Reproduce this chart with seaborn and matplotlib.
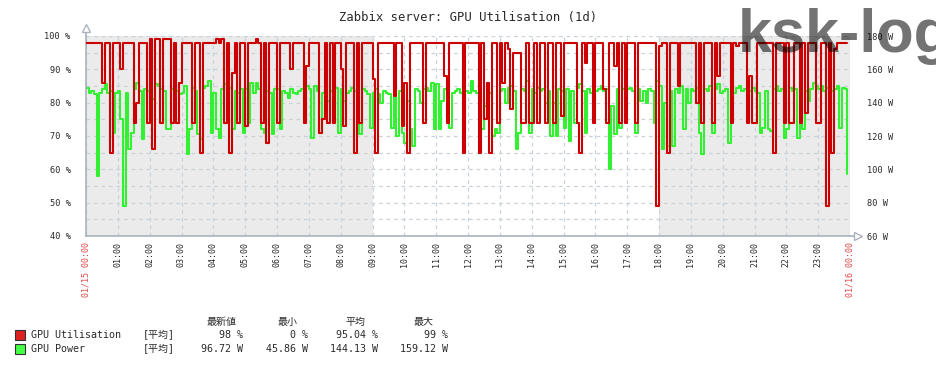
import pandas as pd
import seaborn as sns
import matplotlib.pyplot as plt
from matplotlib.patches import Rectangle

sns.set_style("white")
plt.rcParams['font.family'] = ['DejaVu Sans Mono', 'Noto Sans CJK JP']

# GPU Utilisation (%) - one value every 5 minutes, one row per hour
gpu_util = [
    98, 98, 98, 98, 98, 98, 86, 98, 98, 65, 98, 98,   # 00
    98, 90, 98, 98, 98, 98, 74, 80, 98, 98, 98, 74,   # 01
    99, 66, 99, 99, 74, 99, 99, 99, 74, 98, 74, 86,   # 02
    98, 98, 98, 98, 74, 98, 98, 65, 98, 98, 98, 98,   # 03
    98, 99, 98, 99, 74, 98, 65, 89, 98, 74, 98, 98,   # 04
    73, 98, 98, 98, 99, 98, 74, 98, 68, 98, 98, 98,   # 05
    74, 98, 98, 98, 98, 90, 98, 98, 98, 98, 74, 91,   # 06
    98, 98, 98, 98, 71, 75, 98, 74, 98, 74, 98, 98,   # 07
    90, 73, 98, 98, 98, 65, 98, 74, 98, 98, 98, 98,   # 08
    87, 65, 98, 98, 98, 98, 98, 98, 82, 98, 98, 73,   # 09
    86, 65, 98, 98, 98, 98, 98, 74, 98, 98, 98, 98,   # 10
    98, 98, 98, 88, 74, 98, 98, 98, 98, 98, 65, 98,   # 11
    98, 98, 98, 98, 65, 98, 75, 86, 65, 98, 98, 74,   # 12
    98, 86, 98, 96, 78, 95, 95, 95, 74, 74, 98, 74,   # 13
    74, 98, 74, 98, 98, 74, 98, 98, 74, 98, 98, 76,   # 14
    98, 98, 98, 98, 98, 74, 65, 98, 92, 98, 98, 74,   # 15
    98, 98, 98, 84, 74, 98, 98, 91, 98, 74, 98, 74,   # 16
    98, 98, 98, 74, 98, 98, 98, 98, 98, 98, 98, 49,   # 17
    97, 98, 98, 65, 98, 98, 98, 85, 98, 98, 98, 98,   # 18
    98, 98, 80, 98, 74, 98, 98, 98, 74, 98, 88, 98,   # 19
    98, 98, 98, 74, 98, 97, 98, 98, 98, 74, 88, 74,   # 20
    74, 98, 98, 98, 98, 98, 98, 65, 98, 98, 98, 74,   # 21
    98, 74, 74, 98, 98, 74, 98, 77, 98, 98, 98, 74,   # 22
    74, 98, 98, 49, 98, 65, 96, 98, 98, 98, 98, 98,   # 23
]

# GPU Power (W) - same timestamps
gpu_power = [
    149, 146, 147, 145, 96, 146, 148, 151, 146, 147, 122, 146,    # 00
    147, 130, 78, 146, 112, 122, 148, 152, 147, 118, 148, 147,    # 01
    149, 142, 151, 150, 148, 147, 124, 124, 148, 146, 147, 145,   # 02
    146, 150, 109, 124, 149, 147, 121, 118, 149, 150, 153, 122,   # 03
    146, 124, 119, 148, 151, 147, 149, 124, 147, 146, 148, 122,   # 04
    148, 128, 152, 146, 152, 148, 124, 122, 147, 146, 121, 148,   # 05
    148, 124, 147, 146, 143, 148, 146, 145, 147, 148, 146, 150,   # 06
    148, 119, 150, 147, 122, 146, 148, 141, 147, 146, 149, 122,   # 07
    148, 141, 146, 147, 149, 147, 146, 121, 148, 147, 145, 125,   # 08
    146, 148, 145, 140, 147, 146, 145, 125, 144, 120, 147, 122,   # 09
    116, 141, 124, 114, 148, 147, 140, 148, 149, 147, 152, 124,   # 10
    151, 124, 141, 148, 150, 125, 146, 147, 148, 146, 122, 147,   # 11
    146, 153, 147, 146, 148, 124, 138, 147, 146, 120, 124, 122,   # 12
    147, 148, 140, 149, 150, 147, 112, 122, 148, 147, 153, 122,   # 13
    148, 146, 149, 147, 148, 140, 147, 120, 140, 120, 148, 147,   # 14
    125, 148, 117, 147, 128, 149, 151, 147, 122, 148, 146, 141,   # 15
    147, 148, 150, 147, 148, 100, 138, 121, 148, 125, 148, 146,   # 16
    148, 149, 147, 122, 148, 141, 147, 140, 148, 147, 128, 153,   # 17
    150, 112, 140, 114, 147, 114, 148, 146, 150, 124, 148, 140,   # 18
    148, 147, 149, 122, 109, 148, 147, 150, 122, 148, 151, 146,   # 19
    147, 148, 116, 147, 146, 149, 150, 147, 148, 146, 147, 149,   # 20
    147, 146, 122, 125, 147, 124, 123, 148, 150, 147, 148, 119,   # 21
    124, 149, 147, 148, 119, 148, 124, 147, 141, 148, 152, 150,   # 22
    148, 150, 147, 149, 146, 147, 148, 150, 125, 149, 148, 97,    # 23
]

stat_headers = ["最新値", "最小", "平均", "最大"]
util_stats = ["98 %", "0 %", "95.04 %", "99 %"]
power_stats = ["96.72 W", "45.86 W", "144.13 W", "159.12 W"]

RED = "#CC0000"
GREEN = "#33F033"
GRID = "#C9D1D9"
AXIS = "#A9B3BD"
TXT = "#2A2A2A"

times = pd.date_range("2024-01-15 00:00", periods=len(gpu_util), freq="5min")
df = pd.DataFrame({"time": times, "util": gpu_util, "power": gpu_power})
start = times[0]
end = start + pd.Timedelta(hours=24)

W, H = 936, 376
fig = plt.figure(figsize=(W / 100, H / 100), dpi=100)
rect = [86 / W, 1 - 236 / H, 764 / W, 200 / H]
ax_w = fig.add_axes(rect)
ax_p = fig.add_axes(rect, sharex=ax_w)
ax_p.patch.set_visible(False)

# background: working hours white, rest grey
ax_w.axvspan(start, start + pd.Timedelta(hours=9), color="#EBEBEB", lw=0, zorder=0)
ax_w.axvspan(start + pd.Timedelta(hours=18), end, color="#EBEBEB", lw=0, zorder=0)

sns.lineplot(data=df, x="time", y="power", ax=ax_w, color=GREEN,
             linewidth=1.5, drawstyle="steps-post", zorder=3)
sns.lineplot(data=df, x="time", y="util", ax=ax_p, color=RED,
             linewidth=1.5, drawstyle="steps-post", zorder=3)

ax_w.set_xlim(start, end)
ax_w.set_ylim(60, 180)
ax_p.set_ylim(40, 100)
for a in (ax_w, ax_p):
    a.set_xlabel("")
    a.set_ylabel("")
    for s in a.spines.values():
        s.set_visible(False)

# grid every 10 W (= 5 %) and every hour
hours = pd.date_range(start, end, freq="h")
w_ticks = list(range(60, 181, 10))
ax_w.set_yticks(w_ticks)
ax_w.set_yticklabels([f"{v} W" if v % 20 == 0 else "" for v in w_ticks])
ax_w.yaxis.tick_right()
ax_w.set_xticks(hours)
ax_w.grid(True, color=GRID, linestyle=(0, (3, 3)), linewidth=0.9)
ax_w.set_axisbelow(True)
ax_w.tick_params(axis="y", length=0, pad=12, labelsize=6.2, labelcolor=TXT)
ax_w.tick_params(axis="x", length=0, labelbottom=False)

p_ticks = list(range(40, 101, 10))
ax_p.set_yticks(p_ticks)
ax_p.set_yticklabels([f"{v} %" for v in p_ticks])
ax_p.tick_params(axis="y", length=0, pad=11, labelsize=6.2, labelcolor=TXT)

hour_labels = ["01/15 00:00"] + [f"{h:02d}:00" for h in range(1, 24)] + ["01/16 00:00"]
ax_p.set_xticks(hours)
ax_p.set_xticklabels(hour_labels, rotation=90)
ax_p.tick_params(axis="x", length=0, pad=4, labelsize=6, labelcolor=TXT)
for lab in (ax_p.get_xticklabels()[0], ax_p.get_xticklabels()[-1]):
    lab.set_color("#E04848")

# axes lines with arrows
ax_p.spines["left"].set_visible(True)
ax_p.spines["bottom"].set_visible(True)
ax_p.spines["left"].set_color(AXIS)
ax_p.spines["bottom"].set_color(AXIS)
ax_p.spines["left"].set_linewidth(1.2)
ax_p.spines["bottom"].set_linewidth(1.2)
ax_p.plot([0, 0], [1, 1.035], transform=ax_p.transAxes, color=AXIS, lw=1.2, clip_on=False)
ax_p.plot([1, 1.008], [0, 0], transform=ax_p.transAxes, color=AXIS, lw=1.2, clip_on=False)
ax_p.plot([0], [1.04], marker="^", ms=6, mfc="white", mec=AXIS, mew=1,
          transform=ax_p.transAxes, clip_on=False)
ax_p.plot([1.01], [0], marker=">", ms=6, mfc="white", mec=AXIS, mew=1,
          transform=ax_p.transAxes, clip_on=False)

fig.text(0.5, 1 - 18 / H, "Zabbix server: GPU Utilisation (1d)", ha="center",
         va="center", fontsize=8.8, color=TXT)

# watermark
fig.text(738 / W, 1 - 52 / H, "ksk-log", fontsize=44, fontweight="bold",
         family=["Liberation Sans", "DejaVu Sans"],
         color="black", alpha=0.55, va="baseline", ha="left", zorder=10)

# legend table
head_x = [222, 288, 355, 424]
val_x = [243, 308, 378, 448]
for x, t in zip(head_x, stat_headers):
    fig.text(x / W, 1 - 322 / H, t, ha="center", va="center", fontsize=7.2, color=TXT)

rows = [("GPU Utilisation", "#DD2020", util_stats, 335),
        ("GPU Power", "#44FF44", power_stats, 349)]
for name, col, vals, y in rows:
    fig.patches.append(Rectangle((15 / W, 1 - (y + 5) / H), 10 / W, 10 / H,
                                 transform=fig.transFigure, facecolor=col,
                                 edgecolor="#333333", lw=0.8))
    fig.text(31 / W, 1 - y / H, name, ha="left", va="center", fontsize=7.2, color=TXT)
    fig.text(143 / W, 1 - y / H, "[平均]", ha="left", va="center", fontsize=7.2, color=TXT)
    for x, v in zip(val_x, vals):
        fig.text(x / W, 1 - y / H, v, ha="right", va="center", fontsize=7.2, color=TXT)

fig.savefig("out.png", dpi=100)
